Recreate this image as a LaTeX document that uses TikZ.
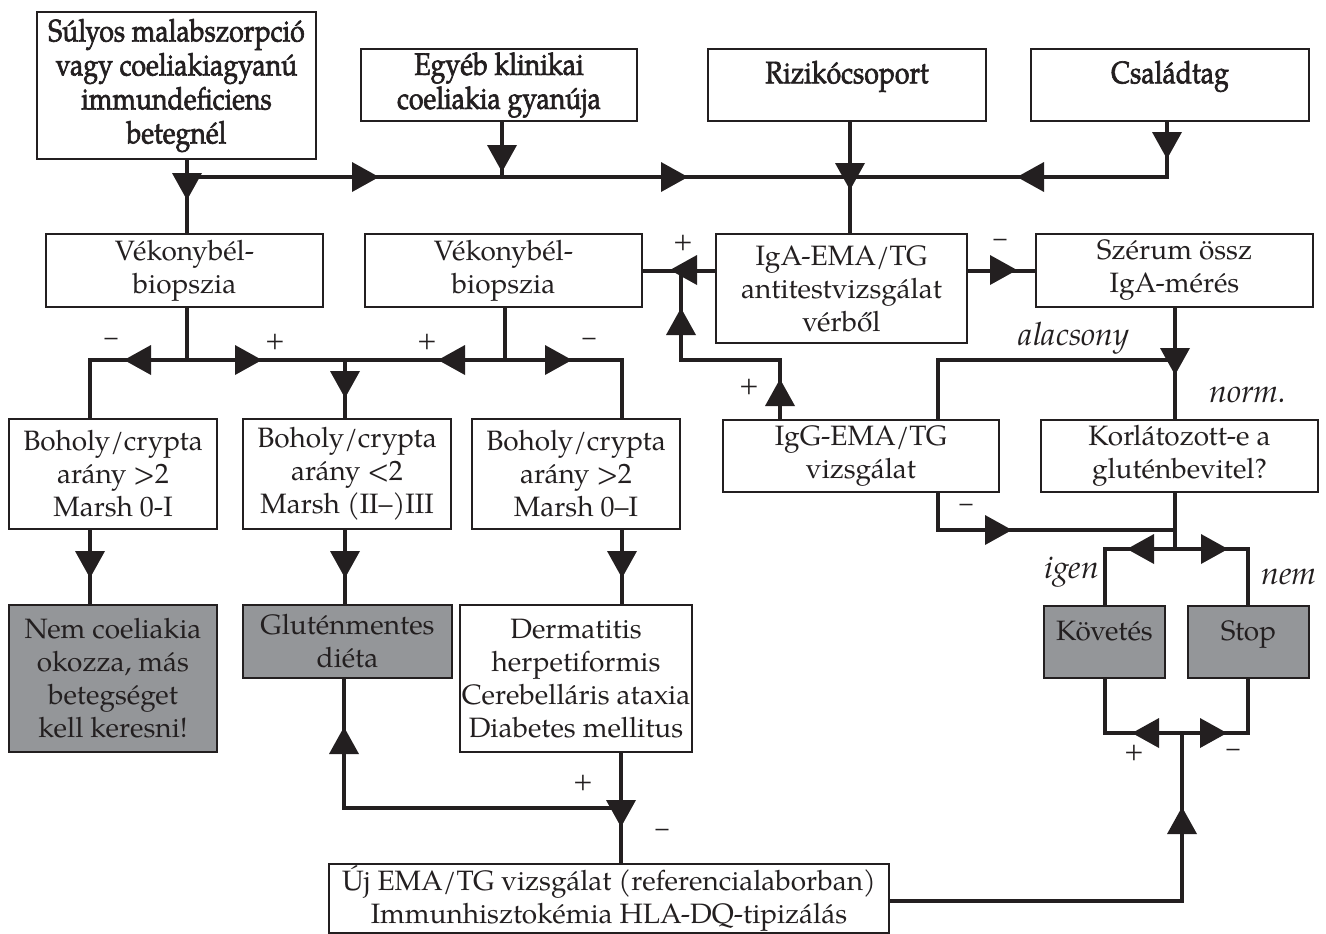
\documentclass[tikz,border=0pt]{standalone}
\usepackage{fontspec}
\setmainfont{TeX Gyre Pagella}
\newfontfamily\topfont[FakeBold=2,FakeStretch=0.86]{TeX Gyre Pagella}
\definecolor{ink}{RGB}{35,31,32}
\definecolor{boxgray}{RGB}{148,150,153}
\newcommand\bodyf{\fontsize{14}{16.5}\selectfont}
\newcommand\topf{\topfont\fontsize{15.5}{17}\selectfont}
\tikzset{
  box/.style={draw=ink, line width=1pt, fill=white, inner sep=1pt, align=center, font=\bodyf, text=ink},
  tbox/.style={box, font=\topf},
  gbox/.style={box, fill=boxgray},
  conn/.style={line width=2pt, draw=ink},
  pm/.style={font=\fontsize{13}{14}\selectfont, text=ink},
  itl/.style={font=\fontsize{16}{18}\selectfont\itshape, text=ink},
  ad/.pic={\fill[ink] (0,0) -- (-15,-27) -- (15,-27) -- cycle;},
  au/.pic={\fill[ink] (0,0) -- (-15,27) -- (15,27) -- cycle;},
  ar/.pic={\fill[ink] (0,0) -- (-27,-15) -- (-27,15) -- cycle;},
  al/.pic={\fill[ink] (0,0) -- (27,-15) -- (27,15) -- cycle;},
}
\begin{document}
\begin{tikzpicture}[x={(0.5pt,0)}, y={(0,-0.5pt)}]
\fill[white] (0,0) rectangle (1326,933);
\useasboundingbox (0,0) rectangle (1326,933);

% top boxes
\node[tbox, minimum width=139.5pt, minimum height=73.5pt] (A) at (176.5,85.5)
  {Súlyos malabszorpció\\vagy coeliakiagyanú\\immundeficiens\\betegnél};
\node[tbox, minimum width=138pt, minimum height=36pt] (B) at (499,85)
  {Egyéb klinikai\\coeliakia gyanúja};
\node[tbox, minimum width=139pt, minimum height=36pt] (C) at (847,85)
  {Rizikócsoport\\[-4pt]\mbox{}};
\node[tbox, minimum width=139pt, minimum height=36pt] (D) at (1170,85)
  {Családtag\\[-4pt]\mbox{}};

% second row
\node[box, minimum width=138.5pt, minimum height=36.5pt] (V1) at (184.5,270.5) {Vékonybél-\\biopszia};
\node[box, minimum width=138.5pt, minimum height=36.5pt] (V2) at (503.5,270.5) {Vékonybél-\\biopszia};
\node[box, minimum width=125.5pt, minimum height=54.5pt] (IgA) at (841.5,288.5) {IgA-EMA/TG\\antitestvizsgálat\\vérből};
\node[box, minimum width=138.5pt, minimum height=36.5pt] (Sz) at (1174.5,270.5) {Szérum össz\\IgA-mérés};

% third row
\node[box, minimum width=104pt, minimum height=55pt] (B1) at (113,474) {Boholy/crypta\\arány >2\\Marsh 0-I};
\node[box, minimum width=104pt, minimum height=55pt] (B2) at (347,474) {Boholy/crypta\\arány <2\\Marsh (II–)III};
\node[box, minimum width=104pt, minimum height=55pt] (B3) at (576,474) {Boholy/crypta\\arány >2\\Marsh 0–I};
\node[box, minimum width=138pt, minimum height=36pt] (IgG) at (861,456) {IgG-EMA/TG\\vizsgálat};
\node[box, minimum width=138.5pt, minimum height=36pt] (K) at (1179.5,456) {Korlátozott-e a\\gluténbevitel?};

% fourth row
\node[gbox, minimum width=104pt, minimum height=73.5pt] (N) at (113,678.5) {Nem coeliakia\\okozza, más\\betegséget\\kell keresni!};
\node[gbox, minimum width=104.5pt, minimum height=36.5pt] (G) at (347.5,641.5) {Gluténmentes\\diéta};
\node[box, minimum width=104pt, minimum height=73.5pt] (Dm) at (576,678.5) {Dermatitis\\herpetiformis\\Cerebelláris ataxia\\Diabetes mellitus};
\node[gbox, minimum width=60.5pt, minimum height=36pt] (Kv) at (1104.5,642) {Követés\\[-5pt]\mbox{}};
\node[gbox, minimum width=60.5pt, minimum height=36pt] (St) at (1248.5,642) {Stop\\[-5pt]\mbox{}};

% bottom
\node[box, minimum width=280pt, minimum height=33.5pt] (U) at (609,898.5) {Új EMA/TG vizsgálat (referencialaborban)\\Immunhisztokémia HLA-DQ-tipizálás};

% junction coordinates
\coordinate (j1) at (187,177);
\coordinate (j2) at (502,177);
\coordinate (j3) at (850,177);
\coordinate (j4) at (1167,177);
\coordinate (v1b) at (187,360);
\coordinate (v2b) at (505,360);
\coordinate (bl) at (90,360);
\coordinate (bm) at (345,360);
\coordinate (br) at (622,360);
\coordinate (ig1) at (681,360);
\coordinate (ig2) at (780,360);
\coordinate (al1) at (938,360);
\coordinate (al2) at (1175,360);
\coordinate (mi1) at (938,530);
\coordinate (mi2) at (1175,530);
\coordinate (kj) at (1175,549);
\coordinate (kl) at (1105,549);
\coordinate (kr) at (1248,549);
\coordinate (bb) at (1182,733);
\coordinate (bbl) at (1105,733);
\coordinate (bbr) at (1248,733);
\coordinate (gl) at (344,808);
\coordinate (gr) at (621,808);
\coordinate (ur) at (1182,901);

% connectors
\draw[conn] (A.south -| j1) -- (V1.north -| j1);
\draw[conn] (j1) -- (j4) -- (D.south -| j4);
\draw[conn] (B.south -| j2) -- (j2);
\draw[conn] (C.south -| j3) -- (IgA.north -| j3);
\draw[conn] (IgA.west |- V2.east) -- (V2.east);
\draw[conn] (IgA.east |- Sz.west) -- (Sz.west);
\draw[conn] (IgG.north -| ig2) -- (ig2) -- (ig1) -- (V2.east -| ig1);
\draw[conn] (Sz.south -| al2) -- (K.north -| al2);
\draw[conn] (al2) -- (al1) -- (IgG.north -| al1);
\draw[conn] (IgG.south -| mi1) -- (mi1) -- (mi2);
\draw[conn] (K.south -| kj) -- (kj);
\draw[conn] (Kv.north -| kl) -- (kl) -- (kr) -- (St.north -| kr);
\draw[conn] (V1.south -| v1b) -- (v1b);
\draw[conn] (V2.south -| v2b) -- (v2b);
\draw[conn] (B1.north -| bl) -- (bl) -- (br) -- (B3.north -| br);
\draw[conn] (bm) -- (B2.north -| bm);
\draw[conn] (B1.south -| bl) -- (N.north -| bl);
\draw[conn] (B2.south -| bm) -- (G.north -| bm);
\draw[conn] (B3.south -| br) -- (Dm.north -| br);
\draw[conn] (G.south -| gl) -- (gl) -- (gr);
\draw[conn] (Dm.south -| gr) -- (U.north -| gr);
\draw[conn] (U.east |- ur) -- (ur) -- (bb);
\draw[conn] (Kv.south -| bbl) -- (bbl) -- (bbr) -- (St.south -| bbr);

% arrowheads
\pic at (187,200) {ad};
\pic at (379,177) {ar};
\pic at (502,172) {ad};
\pic at (688,177) {ar};
\pic at (850,190) {ad};
\pic at (1017,177) {al};
\pic at (1167,159) {ad};
\pic at (670,270) {al};
\pic at (1017,270) {ar};
\pic at (681,308) {au};
\pic at (780,379) {au};
\pic at (1175,375) {ad};
\pic at (1012,530) {ar};
\pic at (1127,549) {al};
\pic at (1228,549) {ar};
\pic at (124,360) {al};
\pic at (262,360) {ar};
\pic at (438,360) {al};
\pic at (572,360) {ar};
\pic at (345,398) {ad};
\pic at (90,578) {ad};
\pic at (345,578) {ad};
\pic at (622,578) {ad};
\pic at (344,727) {au};
\pic at (621,827) {ad};
\pic at (1182,807) {au};
\pic at (1132,733) {al};
\pic at (1227,733) {ar};

% labels
\node[pm] (p1) at (683,243) {+};
\node[pm] (m1) at (1000,243) {–};
\node[pm] (p2) at (749,387) {+};
\node[pm] (m2) at (966,508) {–};
\node[pm] (m3) at (111,342) {–};
\node[pm] (p3) at (275,342) {+};
\node[pm] (p4) at (427,342) {+};
\node[pm] (m4) at (589,342) {–};
\node[pm] (p5) at (583,783) {+};
\node[pm] (m5) at (662,833) {–};
\node[pm] (p6) at (1134,753) {+};
\node[pm] (m6) at (1233,753) {–};
\node[itl] (t1) at (1074,338) {alacsony};
\node[itl] (t2) at (1248,395) {norm.};
\node[itl] (t3) at (1072,572) {igen};
\node[itl] (t4) at (1289,577) {nem};
\end{tikzpicture}
\end{document}
